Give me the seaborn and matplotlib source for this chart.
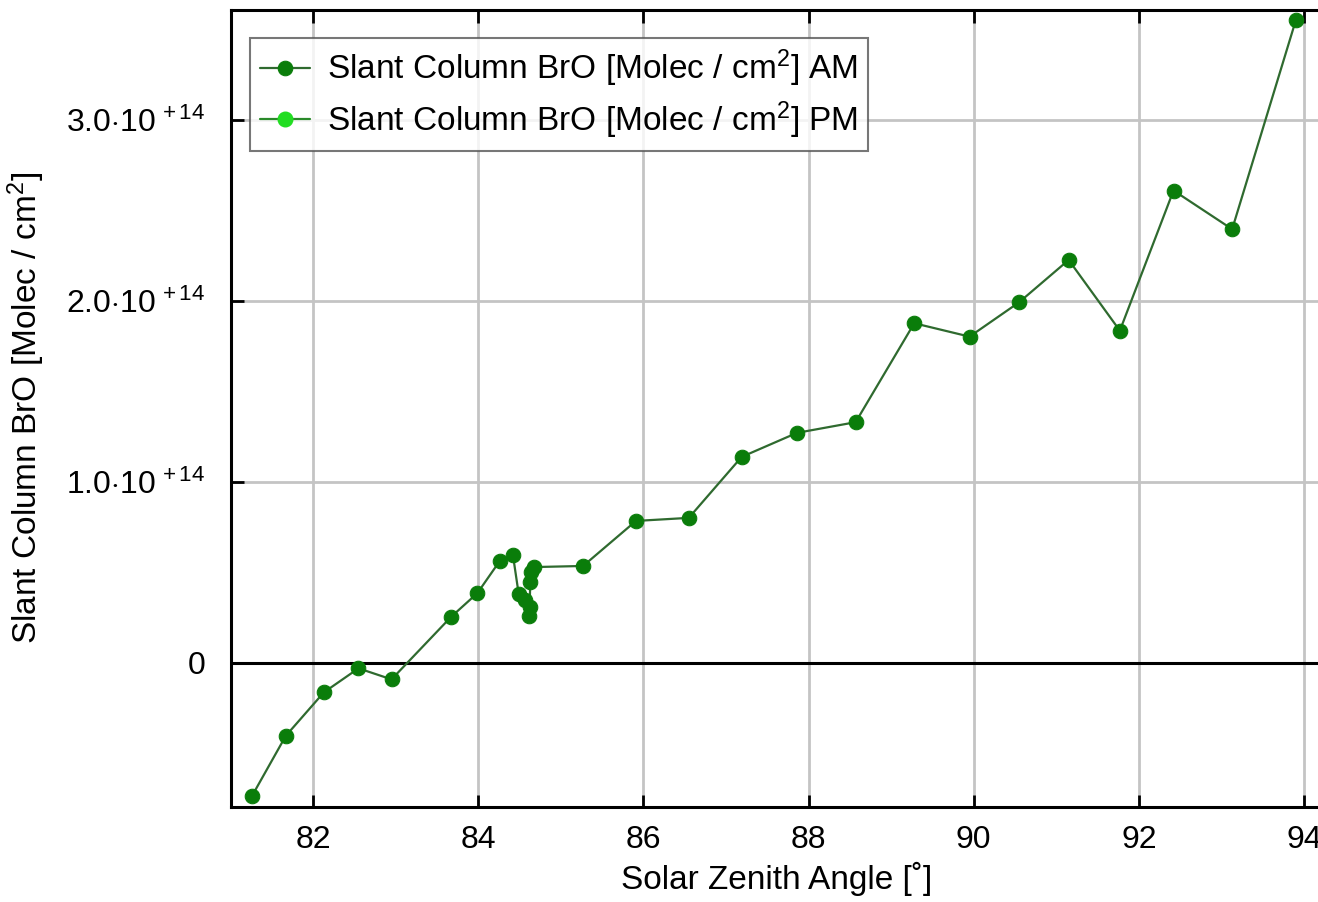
import matplotlib
matplotlib.use("Agg")
import matplotlib.pyplot as plt
import seaborn as sns
import pandas as pd

# Solar zenith angle [deg] and BrO slant column [1e14 molec/cm^2], morning series
sza_am = [81.26, 81.67, 82.13, 82.55, 82.95, 83.67, 83.99, 84.26, 84.42,
          84.49, 84.57, 84.63, 84.62, 84.63, 84.64, 84.68, 85.27, 85.91,
          86.55, 87.19, 87.86, 88.57, 89.28, 89.95, 90.55, 91.15, 91.77,
          92.42, 93.13, 93.90]
scd_am = [-0.738, -0.405, -0.165, -0.032, -0.093, 0.252, 0.384, 0.561, 0.595,
          0.379, 0.346, 0.307, 0.257, 0.445, 0.500, 0.528, 0.534, 0.783,
          0.800, 1.137, 1.270, 1.329, 1.876, 1.802, 1.992, 2.226, 1.835,
          2.610, 2.396, 3.550]
# Afternoon series (no measurements in this range)
sza_pm = []
scd_pm = []

scale = 1e14
ytick_vals = [0.0, 1.0, 2.0, 3.0]
ytick_labels = ["0", r"1.0$\cdot$10$^{\,+14}$", r"2.0$\cdot$10$^{\,+14}$", r"3.0$\cdot$10$^{\,+14}$"]
xtick_vals = [82, 84, 86, 88, 90, 92, 94]

label_am = r"Slant Column BrO [Molec / cm$^{2}$] AM"
label_pm = r"Slant Column BrO [Molec / cm$^{2}$] PM"

sns.set_theme(style="white")
plt.rcParams["font.family"] = ["Liberation Sans", "DejaVu Sans"]
plt.rcParams["mathtext.fontset"] = "custom"
plt.rcParams["mathtext.rm"] = "Liberation Sans"
plt.rcParams["mathtext.it"] = "Liberation Sans"
plt.rcParams["mathtext.bf"] = "Liberation Sans"
plt.rcParams["text.color"] = "black"
plt.rcParams["axes.labelcolor"] = "black"

fig = plt.figure(figsize=(13.18, 9.02), dpi=100)
ax = fig.add_axes([230.5 / 1318, 1 - 806.7 / 902, (1322 - 230.5) / 1318, (806.7 - 10) / 902])

df_am = pd.DataFrame({"sza": sza_am, "scd": [v * scale for v in scd_am]})

line_col = "#2f6a2f"
am_col = "#0a7d0a"
pm_col = "#22dd22"

sns.lineplot(data=df_am, x="sza", y="scd", sort=False, estimator=None, ax=ax,
             color=line_col, linewidth=1.6, marker="o", markersize=10.5,
             markerfacecolor=am_col, markeredgecolor=am_col, label=label_am,
             zorder=4)
ax.plot(sza_pm, [v * scale for v in scd_pm], color="#2a8a2a", linewidth=1.6,
        marker="o", markersize=10.5, markerfacecolor=pm_col, markeredgecolor=pm_col,
        label=label_pm)

ax.set_xlim(81.0, 94 + (1322 - 1304) * 2 / 165.2)
ax.set_ylim(-0.797 * scale, 3.608 * scale)

ax.set_xticks(xtick_vals)
ax.set_xticklabels([str(v) for v in xtick_vals])
ax.set_yticks([v * scale for v in ytick_vals])
ax.set_yticklabels(ytick_labels)

ax.grid(True, color="#c4c4c4", linewidth=2.0)
ax.set_axisbelow(True)
ax.axhline(0, color="black", linewidth=2.2, zorder=2)

for side in ["left", "right", "top", "bottom"]:
    ax.spines[side].set_visible(True)
    ax.spines[side].set_color("black")
    ax.spines[side].set_linewidth(2.2)

ax.tick_params(axis="x", direction="in", length=9, width=2, top=True, bottom=True,
               labelsize=23, pad=13, colors="black")
ax.tick_params(axis="y", direction="in", length=9, width=2, left=True, right=False,
               labelsize=23, pad=18, colors="black")

ax.set_xlabel("Solar Zenith Angle [˚]", fontsize=24, labelpad=5)
ax.set_ylabel(r"Slant Column BrO [Molec / cm$^{2}$]", fontsize=24)
ax.yaxis.set_label_coords(-0.168, 0.5)

leg = ax.legend(loc="upper left", bbox_to_anchor=(0.018, 0.965), borderaxespad=0,
                fontsize=24, frameon=True, fancybox=False, handlelength=1.5,
                handletextpad=0.5, borderpad=0.3, labelspacing=0.3)
leg.get_frame().set_edgecolor("#555555")
leg.get_frame().set_linewidth(1.5)

fig.savefig("out.png", dpi=100)
